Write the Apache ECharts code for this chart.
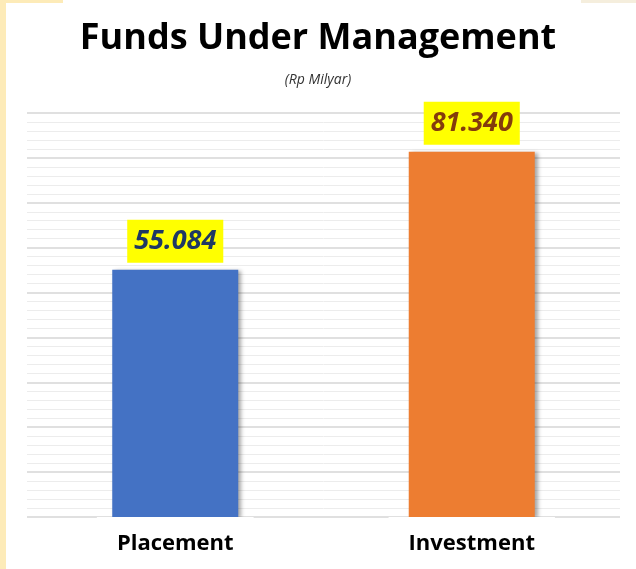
<!DOCTYPE html>
<html>
<head>
<meta charset="utf-8">
<script src="https://cdn.jsdelivr.net/npm/echarts@6/dist/echarts.min.js"></script>
<style>
  html, body { margin: 0; padding: 0; background: #fff; }
  #chart { width: 636px; height: 569px; }
</style>
</head>
<body>
<div id="chart"></div>
<script>
// data (Rp Milyar)
const categories = ['Placement', 'Investment'];
const values = [55084, 81340];
const valueLabels = ['55.084', '81.340'];
const barColors = ['#4472C4', '#ED7D31'];
const labelColors = ['#1F3864', '#843C0C'];

const chart = echarts.init(document.getElementById('chart'));

chart.setOption({
  animation: false,
  title: {
    text: 'Funds Under Management',
    subtext: '(Rp Milyar)',
    left: 'center',
    top: 16,
    itemGap: 16,
    textStyle: { fontFamily: 'Open Sans', fontWeight: 'bold', fontSize: 36, color: '#000' },
    subtextStyle: { fontFamily: 'Open Sans', fontStyle: 'italic', fontSize: 14, color: '#333' }
  },
  graphic: [
    { type: 'rect', left: 0, top: 0, shape: { width: 6, height: 569 }, style: { fill: '#FDEBB8' } },
    { type: 'rect', left: 0, top: 0, shape: { width: 63, height: 3 }, style: { fill: '#FDEBB8' } },
    { type: 'rect', left: 581, top: 0, shape: { width: 55, height: 3 }, style: { fill: '#F5EEDD' } }
  ],
  grid: { left: 27, right: 16, top: 113, bottom: 52 },
  xAxis: {
    type: 'category',
    data: categories,
    z: 5,
    axisLine: { show: false },
    axisTick: { show: false },
    axisLabel: {
      margin: 0,
      fontFamily: 'Open Sans',
      fontWeight: 'bold',
      fontSize: 22,
      lineHeight: 26,
      color: '#000',
      backgroundColor: '#fff',
      padding: [14, 20, 8, 20]
    }
  },
  yAxis: {
    type: 'value',
    min: 0,
    max: 90000,
    interval: 10000,
    axisLabel: { show: false },
    axisLine: { show: false },
    axisTick: { show: false },
    splitLine: { lineStyle: { color: '#d6d6d6', width: 1.5 } },
    minorTick: { show: false, splitNumber: 5 },
    minorSplitLine: { show: true, lineStyle: { color: '#ececec', width: 1 } }
  },
  series: [{
    type: 'bar',
    barWidth: '42.5%',
    data: values.map((v, i) => ({
      value: v,
      itemStyle: {
        color: barColors[i],
        shadowColor: 'rgba(0,0,0,0.35)',
        shadowBlur: 4,
        shadowOffsetX: 3,
        shadowOffsetY: 1
      },
      label: { color: labelColors[i] }
    })),
    label: {
      show: true,
      position: 'top',
      distance: 7,
      formatter: p => valueLabels[p.dataIndex],
      fontFamily: 'Open Sans',
      fontWeight: 'bold',
      fontStyle: 'italic',
      fontSize: 27,
      lineHeight: 31,
      backgroundColor: '#FFFF00',
      padding: [6, 7, 6, 7]
    }
  }]
});
</script>
</body>
</html>
